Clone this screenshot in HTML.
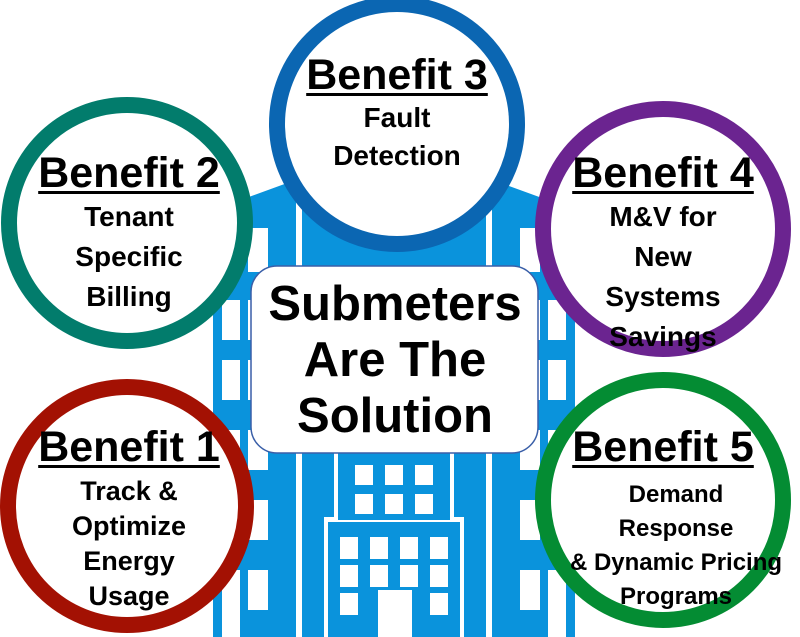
<!DOCTYPE html>
<html><head><style>
body{margin:0;width:800px;height:637px;overflow:hidden;background:#fff;position:relative;font-family:"Liberation Sans",Arial,sans-serif;font-weight:bold;color:#000}
.t{position:absolute;text-align:center;white-space:nowrap;transform:translateX(-50%)}
.h{font-size:43px;text-decoration:underline;text-decoration-thickness:3px;text-underline-offset:4px;line-height:46px}
.s{font-size:28px;line-height:40px}
.s2{font-size:27px;line-height:35px}
</style></head><body>
<svg width="800" height="637" style="position:absolute;left:0;top:0">
<g fill="#0a93dc">
<polygon points="213,210 290,182 300,182 300,637 213,637"/>
<polygon points="575,210 498,182 488,182 488,637 575,637"/>
<rect x="300" y="182" width="188" height="455"/>
</g>
<g fill="#fff">
<rect x="296" y="182" width="6" height="455"/>
<rect x="486" y="182" width="6" height="455"/>
<rect x="222" y="232" width="18" height="40"/><rect x="248" y="228" width="20" height="44"/>
<rect x="222" y="300" width="18" height="40"/><rect x="248" y="300" width="20" height="40"/>
<rect x="222" y="360" width="18" height="40"/><rect x="248" y="360" width="20" height="40"/>
<rect x="222" y="430" width="18" height="40"/><rect x="248" y="430" width="20" height="40"/>
<rect x="222" y="500" width="18" height="40"/><rect x="248" y="500" width="20" height="40"/>
<rect x="222" y="570" width="18" height="67"/><rect x="248" y="570" width="20" height="40"/>
<rect x="548" y="232" width="18" height="40"/><rect x="520" y="228" width="20" height="44"/>
<rect x="548" y="300" width="18" height="40"/><rect x="520" y="300" width="20" height="40"/>
<rect x="548" y="360" width="18" height="40"/><rect x="520" y="360" width="20" height="40"/>
<rect x="548" y="430" width="18" height="40"/><rect x="520" y="430" width="20" height="40"/>
<rect x="548" y="500" width="18" height="40"/><rect x="520" y="500" width="20" height="40"/>
<rect x="548" y="570" width="18" height="67"/><rect x="520" y="570" width="20" height="40"/>
<rect x="334" y="453" width="120" height="67"/>
<rect x="324" y="517" width="140" height="120"/>
</g>
<g fill="#0a93dc">
<rect x="338" y="453" width="112" height="67"/>
<rect x="328" y="522" width="132" height="115"/>
</g>
<g fill="#fff">
<rect x="355" y="465" width="18" height="20"/><rect x="385" y="465" width="18" height="20"/><rect x="415" y="465" width="18" height="20"/>
<rect x="355" y="494" width="18" height="20"/><rect x="385" y="494" width="18" height="20"/><rect x="415" y="494" width="18" height="20"/>
<rect x="340" y="537" width="18" height="22"/><rect x="370" y="537" width="18" height="22"/><rect x="400" y="537" width="18" height="22"/><rect x="430" y="537" width="18" height="22"/>
<rect x="340" y="565" width="18" height="22"/><rect x="370" y="565" width="18" height="22"/><rect x="400" y="565" width="18" height="22"/><rect x="430" y="565" width="18" height="22"/>
<rect x="340" y="593" width="18" height="22"/><rect x="430" y="593" width="18" height="22"/>
<rect x="378" y="590" width="34" height="47"/>
</g>
<rect x="251" y="266" width="287" height="187" rx="26" fill="#fff" stroke="#3a5fa8" stroke-width="1.5"/>
<g fill="#fff" stroke-width="16">
<circle cx="397" cy="124" r="120" stroke="#0b66b2"/>
<circle cx="127" cy="223" r="118" stroke="#027c6c"/>
<circle cx="663" cy="229" r="120" stroke="#6b2490"/>
<circle cx="127" cy="506" r="119" stroke="#a31103"/>
<circle cx="663" cy="500" r="120" stroke="#048c33"/>
</g>
</svg>
<div class="t" style="left:395px;top:276px;font-size:49px;line-height:56px">Submeters<br>Are The<br>Solution</div>
<div class="t h" style="left:397px;top:52px">Benefit 3</div>
<div class="t s" style="left:397px;top:99px;line-height:38px">Fault<br>Detection</div>
<div class="t h" style="left:129px;top:150px">Benefit 2</div>
<div class="t s" style="left:129px;top:197px">Tenant<br>Specific<br>Billing</div>
<div class="t h" style="left:663px;top:150px">Benefit 4</div>
<div class="t s" style="left:663px;top:197px">M&amp;V for<br>New<br>Systems<br>Savings</div>
<div class="t h" style="left:129px;top:424px">Benefit 1</div>
<div class="t s2" style="left:129px;top:474px">Track &amp;<br>Optimize<br>Energy<br>Usage</div>
<div class="t h" style="left:663px;top:424px">Benefit 5</div>
<div class="t s2" style="left:676px;top:478px;font-size:24px;line-height:34px">Demand<br>Response<br>&amp; Dynamic Pricing<br>Programs</div>
</body></html>
